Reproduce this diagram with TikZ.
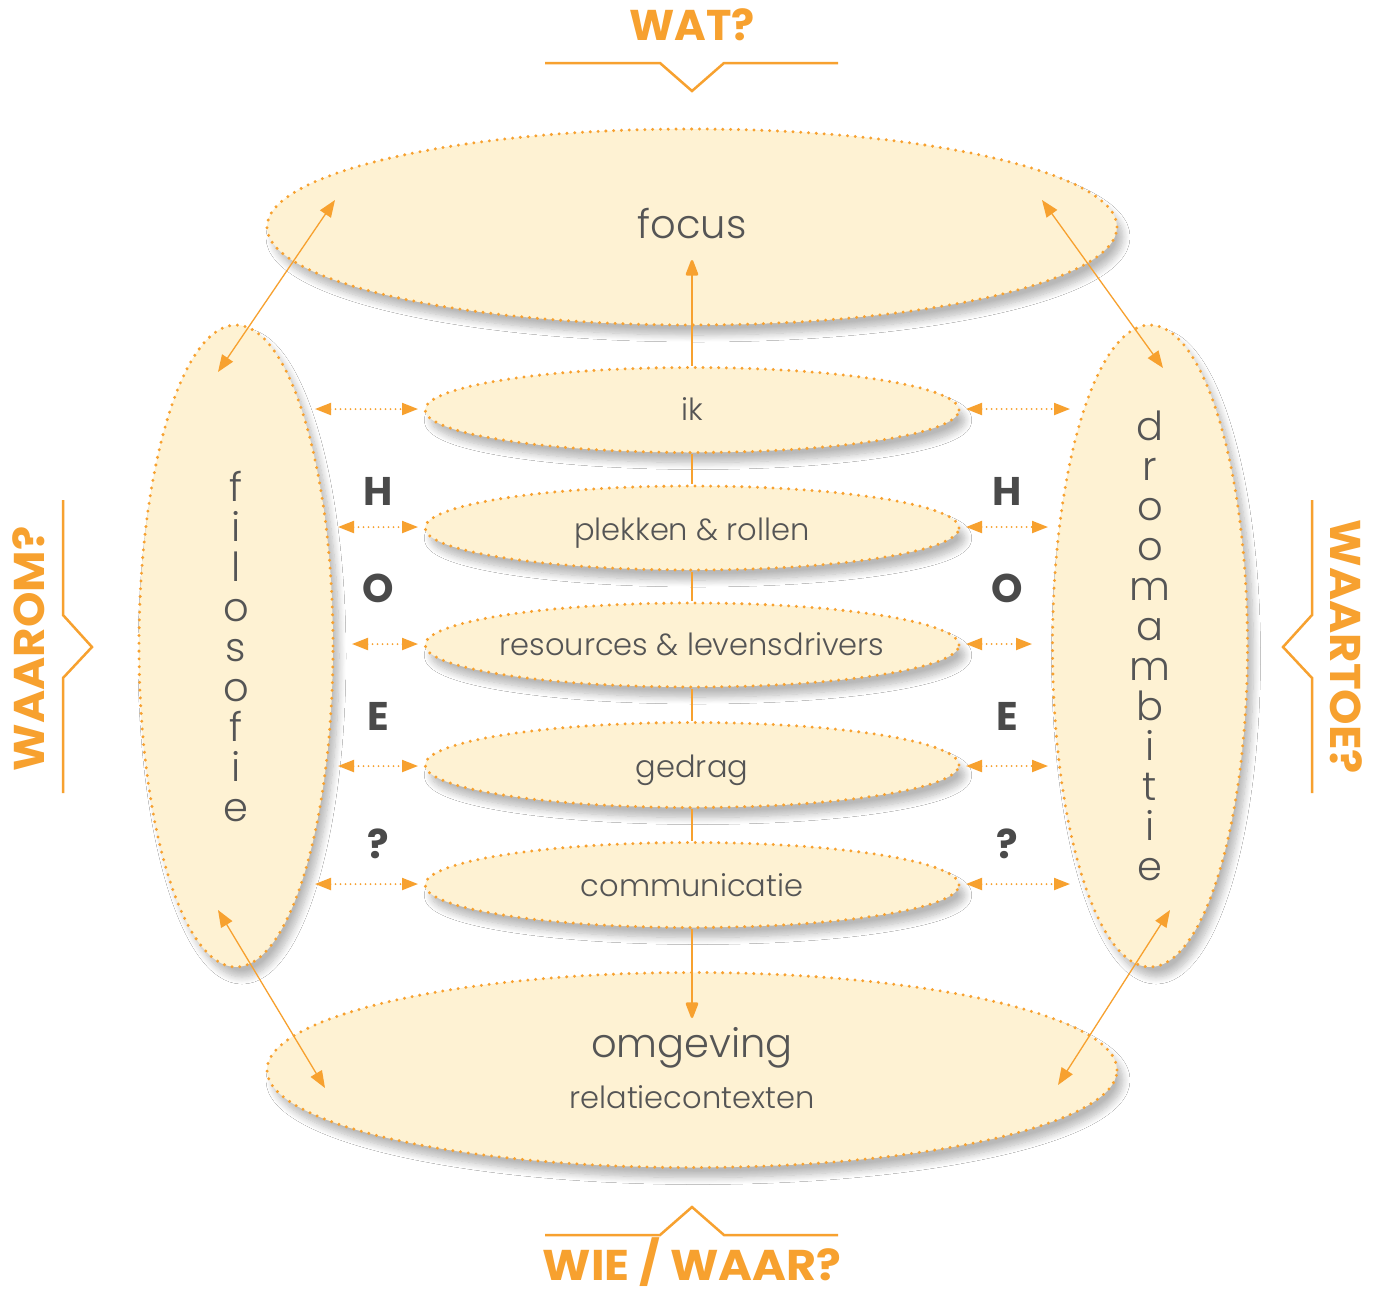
\documentclass[tikz,border=0pt]{standalone}
\usepackage{fontspec}
\setmainfont{Poppins}
\newfontfamily\lightfont{Poppins Light}
\usetikzlibrary{arrows.meta,shapes.geometric,shadows.blur}
\definecolor{org}{HTML}{F7A12F}
\definecolor{cream}{HTML}{FEF2D3}
\definecolor{txt}{HTML}{555555}
\definecolor{hoe}{HTML}{4A4A4A}
\begin{document}
\begin{tikzpicture}[x=1pt,y=-1pt,
  ellbox/.style={ellipse, fill=cream, draw=org, line width=3.3pt,
    dash pattern=on 0pt off 7.8pt, line cap=round, inner sep=0pt,
    blur shadow={shadow xshift=6pt, shadow yshift=-10pt, shadow blur radius=7pt, shadow opacity=28, shadow blur steps=10}},
  bigtxt/.style={text=txt, font=\lightfont\fontsize{40}{40}\selectfont, anchor=base, inner sep=0pt},
  midtxt/.style={text=txt, font=\lightfont\fontsize{30.5}{30.5}\selectfont, anchor=base, inner sep=0pt},
  qtxt/.style={text=org, font=\bfseries\fontsize{43}{43}\selectfont, inner sep=0pt},
  hoetxt/.style={text=hoe, font=\bfseries\fontsize{40}{40}\selectfont, anchor=base, inner sep=0pt},
  vline/.style={draw=org, line width=2.5pt},
  vtip/.style={-{Triangle[length=18pt,width=13pt,round=false]}},
  diag/.style={draw=org, line width=1.3pt, {Triangle[length=17pt,width=13pt]}-{Triangle[length=17pt,width=13pt]}},
  harr/.style={draw=org, line width=2pt, dash pattern=on 0pt off 5pt, line cap=round,
    {Triangle[length=16pt,width=12pt]}-{Triangle[length=16pt,width=12pt]}},
  brk/.style={draw=org, line width=2.5pt}
]
\useasboundingbox (0,0) rectangle (1381,1291);
\fill[white] (0,0) rectangle (1381,1291);

% ellipses
\node[ellbox, minimum width=850pt, minimum height=196pt] (focus) at (692,227) {};
\node[ellbox, minimum width=850pt, minimum height=195pt] (omg) at (692,1070) {};
\node[ellbox, minimum width=194pt, minimum height=642pt] (filo) at (236,646) {};
\node[ellbox, minimum width=195pt, minimum height=642pt] (droom) at (1150,646) {};
\node[ellbox, minimum width=534pt, minimum height=85pt] (ik) at (692,410) {};
\node[ellbox, minimum width=534pt, minimum height=84pt] (pr) at (692,528) {};
\node[ellbox, minimum width=534pt, minimum height=84pt] (res) at (692,645) {};
\node[ellbox, minimum width=534pt, minimum height=85pt] (ged) at (692,765) {};
\node[ellbox, minimum width=534pt, minimum height=85pt] (com) at (692,885) {};

% texts in ellipses
\node[bigtxt] (tfocus) at (692,238) {focus};
\node[bigtxt] (tomg) at (692,1057) {omgeving};
\node[midtxt] (trel) at (692,1108) {relatiecontexten};
\node[midtxt] (tik) at (692,420) {ik};
\node[midtxt] (tpr) at (692,540) {plekken \& rollen};
\node[midtxt] (tres) at (692,655) {resources \& levensdrivers};
\node[midtxt] (tged) at (692,777) {gedrag};
\node[midtxt] (tcom) at (692,896) {communicatie};

\foreach \c [count=\i from 0] in {f,i,l,o,s,o,f,i,e}
  \node[bigtxt] (fl\i) at (236,{501+40*\i}) {\c};
\foreach \c [count=\i from 0] in {d,r,o,o,m,a,m,b,i,t,i,e}
  \node[bigtxt] (dr\i) at (1150,{440+40*\i}) {\c};

% central spine
\coordinate (ftip) at (692,260);
\coordinate (otip) at (692,1018);
\draw[vline, vtip] (ik.north) -- (ftip);
\draw[vline] (ik.south) -- (pr.north);
\draw[vline] (pr.south) -- (res.north);
\draw[vline] (res.south) -- (ged.north);
\draw[vline] (ged.south) -- (com.north);
\draw[vline, vtip] (com.south) -- (otip);

% diagonal arrows
\coordinate (d1a) at (218,372); \coordinate (d1b) at (335,200);
\coordinate (d2a) at (1163,368); \coordinate (d2b) at (1042,200);
\coordinate (d3a) at (218,910); \coordinate (d3b) at (325,1088);
\coordinate (d4a) at (1170,910); \coordinate (d4b) at (1058,1085);
\draw[diag] (d1a) -- (d1b);
\draw[diag] (d2a) -- (d2b);
\draw[diag] (d3a) -- (d3b);
\draw[diag] (d4a) -- (d4b);

% horizontal dotted arrows
\foreach \n/\y/\l/\r in {a/409/315/1070, b/527/338/1048, c/644/352/1032, d/766/338/1048, e/884/315/1070}{
  \coordinate (hl\n) at (\l,\y); \coordinate (hli\n) at (418,\y);
  \coordinate (hri\n) at (966,\y); \coordinate (hr\n) at (\r,\y);
  \draw[harr] (hl\n) -- (hli\n);
  \draw[harr] (hri\n) -- (hr\n);
}

% HOE?
\foreach \c/\y [count=\i] in {H/505,O/602,E/730,?/858}{
  \node[hoetxt] (hoel\i) at (378,\y) {\c};
  \node[hoetxt] (hoer\i) at (1007,\y) {\c};
}

% brackets and questions
\draw[brk] (545,63) -- (660,63) -- (692,91) -- (724,63) -- (838,63);
\draw[brk] (545,1235) -- (660,1235) -- (692,1207) -- (724,1235) -- (838,1235);
\draw[brk] (63,500) -- (63,615) -- (92,647) -- (63,678) -- (63,793);
\draw[brk] (1312,500) -- (1312,615) -- (1283,647) -- (1312,678) -- (1312,793);

\node[qtxt, anchor=base] (wat) at (692,40) {WAT?};
\node[qtxt, anchor=base, xscale=1.07] (wie) at (692,1280) {WIE \raisebox{2pt}{\smash{/}} WAAR?};
\node[qtxt, rotate=90, xscale=1.05] (waarom) at (29,649) {WAAROM?};
\node[qtxt, rotate=-90, xscale=1.05] (waartoe) at (1346,647) {WAARTOE?};
\end{tikzpicture}
\end{document}
